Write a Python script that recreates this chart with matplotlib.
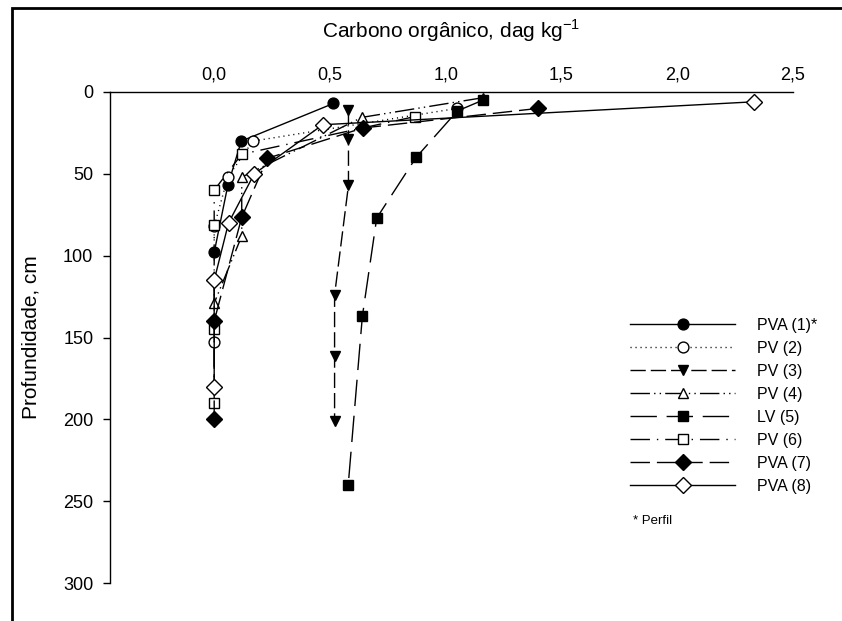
import matplotlib
matplotlib.use("Agg")
import matplotlib.pyplot as plt
from matplotlib.patches import Rectangle
from matplotlib.ticker import FuncFormatter

plt.rcParams['font.family'] = ['Liberation Sans', 'DejaVu Sans']
plt.rcParams['mathtext.fontset'] = 'custom'
plt.rcParams['mathtext.rm'] = 'Liberation Sans'

# carbono organico (dag/kg) x profundidade (cm)
pva1_c = [0.515, 0.117, 0.059, 0.0]
pva1_d = [7, 30, 57, 98]
pv2_c = [1.05, 0.167, 0.059, 0.0, 0.0]
pv2_d = [10, 30, 52, 82, 153]
pv3_c = [0.58, 0.58, 0.58, 0.52, 0.52, 0.52]
pv3_d = [11, 29, 57, 124, 161, 201]
pv4_c = [1.16, 0.638, 0.119, 0.119, 0.0]
pv4_d = [3.5, 15.5, 52, 88, 129]
lv5_c = [1.16, 1.05, 0.872, 0.702, 0.64, 0.579]
lv5_d = [5, 11.6, 40, 77, 137, 240]
pv6_c = [0.868, 0.119, 0.0, 0.0, 0.0, 0.0]
pv6_d = [15, 38, 60, 81, 145, 190]
pva7_c = [1.40, 0.642, 0.23, 0.119, 0.0, 0.0]
pva7_d = [10, 22, 40.5, 76.5, 140, 200]
pva8_c = [2.33, 0.469, 0.173, 0.062, 0.0, 0.0]
pva8_d = [6, 20, 50, 80, 115, 180]

labels = ['PVA (1)*', 'PV (2)', 'PV (3)', 'PV (4)', 'LV (5)', 'PV (6)', 'PVA (7)', 'PVA (8)']

fig = plt.figure(figsize=(8.42, 6.21), dpi=100)
ax = fig.add_axes([110 / 842, 1 - 583 / 621, (793 - 110) / 842, (583 - 92) / 621])

mk = dict(markersize=7.8, markeredgecolor='black', color='black', linewidth=1)
ax.plot(pva1_c, pva1_d, '-', marker='o', markerfacecolor='black', label=labels[0], **mk)
ax.plot(pv2_c, pv2_d, linestyle=(0, (0.8, 2.8)), marker='o', markerfacecolor='white', label=labels[1], **mk)
ax.plot(pv3_c, pv3_d, linestyle=(0, (11, 3.6)), marker='v', markerfacecolor='black', label=labels[2], **mk)
ax.plot(pv4_c, pv4_d, linestyle=(0, (14, 3, 1, 3, 1, 3)), marker='^', markerfacecolor='white', label=labels[3], **mk)
ax.plot(lv5_c, lv5_d, linestyle=(0, (19, 7)), marker='s', markerfacecolor='black', label=labels[4], **mk)
ax.plot(pv6_c, pv6_d, linestyle=(0, (14, 5, 1, 5)), marker='s', markerfacecolor='white', label=labels[5], **mk)
ax.plot(pva7_c, pva7_d, linestyle=(0, (14, 5)), marker='D', markerfacecolor='black', label=labels[6], **mk)
ax.plot(pva8_c, pva8_d, '-', marker='D', markerfacecolor='white', label=labels[7], **mk)

ax.set_xlim(-0.45, 2.5)
ax.set_ylim(300, 0)
ax.set_xticks([0, 0.5, 1.0, 1.5, 2.0, 2.5])
ax.set_yticks([0, 50, 100, 150, 200, 250, 300])
ax.xaxis.set_major_formatter(FuncFormatter(lambda v, p: f"{v:.1f}".replace('.', ',')))
ax.xaxis.tick_top()
ax.tick_params(axis='x', length=0, pad=6, labelsize=13)
ax.tick_params(axis='y', length=5, width=1, direction='out', pad=7, labelsize=13)
ax.spines['right'].set_visible(False)
ax.spines['bottom'].set_visible(False)
for s in ('top', 'left'):
    ax.spines[s].set_linewidth(1)

fig.text(451 / 842, 1 - 38 / 621, 'Carbono orgânico, dag kg$^{-1}$', ha='center', va='baseline', fontsize=15)
fig.text(31 / 842, 1 - 337 / 621, 'Profundidade, cm', ha='center', va='center', rotation=90, fontsize=15)

leg = ax.legend(loc='upper left', bbox_to_anchor=(630 / 842, 1 - 318 / 621), bbox_transform=fig.transFigure,
                frameon=False, fontsize=11.5, handlelength=6.6, handletextpad=1.35, labelspacing=0.5,
                borderpad=0, borderaxespad=0)
fig.text(633 / 842, 1 - 521 / 621, '* Perfil', ha='left', va='center', fontsize=9.5)

# moldura da figura (cortada a direita e embaixo)
fig.patches.append(Rectangle((12 / 842, -0.05), 1.0, 1.05 - 8 / 621,
                             transform=fig.transFigure, fill=False, edgecolor='black', linewidth=2))

fig.savefig('out.png', dpi=100)
